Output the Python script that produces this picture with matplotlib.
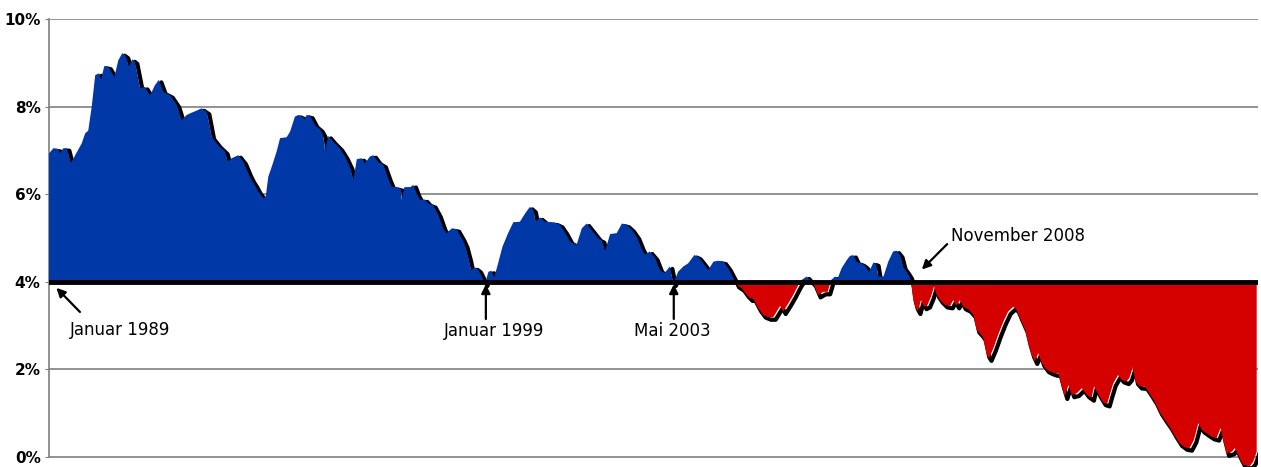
import numpy as np
import matplotlib
matplotlib.use("Agg")
import matplotlib.pyplot as plt
import matplotlib.transforms as mtransforms

# time axis in decimal years, values in percent
years = [
    1989.00, 1989.10, 1989.21, 1989.25, 1989.33, 1989.41, 1989.50, 1989.60, 1989.75, 1989.83,
    1989.90, 1989.98, 1990.06, 1990.15, 1990.19, 1990.27, 1990.36, 1990.50, 1990.59, 1990.68,
    1990.76, 1990.83, 1990.91, 1990.97, 1991.09, 1991.20, 1991.32, 1991.43, 1991.52, 1991.62,
    1991.78, 1991.93, 1992.04, 1992.16, 1992.27, 1992.39, 1992.50, 1992.62, 1992.73, 1992.88,
    1993.04, 1993.10, 1993.19, 1993.34, 1993.46, 1993.57, 1993.65, 1993.72, 1993.80, 1993.92,
    1993.97, 1994.03, 1994.11, 1994.22, 1994.30, 1994.45, 1994.53, 1994.64, 1994.72, 1994.81,
    1994.86, 1994.91, 1994.99, 1995.10, 1995.22, 1995.29, 1995.33, 1995.41, 1995.52, 1995.67,
    1995.79, 1995.90, 1995.98, 1996.06, 1996.17, 1996.25, 1996.36, 1996.44, 1996.55, 1996.67,
    1996.78, 1996.86, 1996.97, 1997.07, 1997.09, 1997.15, 1997.28, 1997.36, 1997.43, 1997.51,
    1997.62, 1997.70, 1997.81, 1997.93, 1998.04, 1998.12, 1998.24, 1998.35, 1998.47, 1998.54,
    1998.62, 1998.68, 1998.77, 1998.85, 1998.92, 1999.00, 1999.08, 1999.15, 1999.21, 1999.29,
    1999.40, 1999.53, 1999.65, 1999.80, 1999.92, 2000.03, 2000.11, 2000.16, 2000.26, 2000.38,
    2000.61, 2000.72, 2000.83, 2000.95, 2001.10, 2001.22, 2001.33, 2001.45, 2001.60, 2001.68,
    2001.75, 2001.87, 2002.02, 2002.14, 2002.25, 2002.36, 2002.48, 2002.59, 2002.67, 2002.78,
    2002.90, 2003.01, 2003.12, 2003.24, 2003.32, 2003.43, 2003.55, 2003.66, 2003.80, 2003.89,
    2004.01, 2004.12, 2004.24, 2004.35, 2004.47, 2004.58, 2004.70, 2004.77, 2004.89, 2005.00,
    2005.08, 2005.15, 2005.27, 2005.38, 2005.50, 2005.61, 2005.69, 2005.77, 2005.84, 2005.96,
    2006.07, 2006.19, 2006.26, 2006.38, 2006.45, 2006.53, 2006.64, 2006.76, 2006.86, 2006.94,
    2007.03, 2007.09, 2007.18, 2007.30, 2007.37, 2007.45, 2007.52, 2007.64, 2007.72, 2007.81,
    2007.91, 2007.97, 2008.02, 2008.14, 2008.25, 2008.36, 2008.44, 2008.52, 2008.59, 2008.67,
    2008.74, 2008.78, 2008.82, 2008.87, 2008.93, 2009.00, 2009.07, 2009.15, 2009.23, 2009.30,
    2009.36, 2009.44, 2009.55, 2009.67, 2009.74, 2009.82, 2009.89, 2009.97, 2010.09, 2010.20,
    2010.28, 2010.38, 2010.43, 2010.51, 2010.56, 2010.66, 2010.77, 2010.89, 2011.00, 2011.12,
    2011.19, 2011.27, 2011.39, 2011.46, 2011.54, 2011.61, 2011.69, 2011.77, 2011.88, 2011.96,
    2012.07, 2012.15, 2012.23, 2012.30, 2012.38, 2012.46, 2012.57, 2012.69, 2012.80, 2012.91,
    2012.97, 2013.07, 2013.18, 2013.27, 2013.33, 2013.41, 2013.52, 2013.60, 2013.71, 2013.78,
    2013.86, 2013.92, 2014.01, 2014.13, 2014.24, 2014.36, 2014.47, 2014.58, 2014.70, 2014.81,
    2014.93, 2015.05, 2015.16, 2015.26, 2015.36, 2015.44, 2015.55, 2015.67, 2015.78, 2015.87,
    2015.93, 2016.01, 2016.13, 2016.20, 2016.31, 2016.39, 2016.54, 2016.62, 2016.70,
]
yields = [
    6.93, 7.05, 7.03, 6.94, 7.05, 7.05, 6.70, 6.89, 7.16, 7.39,
    7.45, 8.00, 8.72, 8.76, 8.61, 8.93, 8.91, 8.68, 9.06, 9.22,
    9.16, 8.91, 9.08, 9.03, 8.42, 8.45, 8.26, 8.49, 8.61, 8.34,
    8.26, 8.04, 7.69, 7.81, 7.86, 7.91, 7.96, 7.88, 7.31, 7.12,
    6.97, 6.74, 6.82, 6.89, 6.74, 6.48, 6.32, 6.21, 6.06, 5.91,
    5.94, 6.40, 6.63, 6.97, 7.28, 7.30, 7.43, 7.77, 7.81, 7.77,
    7.71, 7.81, 7.79, 7.58, 7.48, 7.35, 7.01, 7.33, 7.20, 7.05,
    6.86, 6.63, 6.32, 6.80, 6.82, 6.71, 6.86, 6.89, 6.74, 6.67,
    6.36, 6.17, 6.16, 6.13, 5.87, 6.16, 6.16, 6.21, 6.02, 5.87,
    5.88, 5.79, 5.75, 5.53, 5.22, 5.11, 5.22, 5.20, 4.99, 4.84,
    4.54, 4.27, 4.33, 4.27, 4.13, 3.96, 4.23, 4.25, 4.10, 4.38,
    4.80, 5.11, 5.36, 5.37, 5.56, 5.71, 5.64, 5.37, 5.47, 5.37,
    5.35, 5.30, 5.14, 4.92, 4.84, 5.22, 5.33, 5.18, 4.99, 4.95,
    4.69, 5.09, 5.11, 5.33, 5.30, 5.20, 5.03, 4.76, 4.62, 4.69,
    4.55, 4.27, 4.20, 4.35, 3.96, 4.23, 4.35, 4.42, 4.61, 4.57,
    4.42, 4.27, 4.46, 4.48, 4.46, 4.31, 4.08, 3.93, 3.85, 3.70,
    3.62, 3.62, 3.39, 3.24, 3.19, 3.19, 3.32, 3.45, 3.32, 3.51,
    3.70, 3.93, 4.04, 4.12, 4.04, 3.96, 3.70, 3.77, 3.77, 4.04,
    4.12, 4.08, 4.31, 4.50, 4.59, 4.61, 4.46, 4.42, 4.36, 4.23,
    4.44, 4.42, 4.12, 4.12, 4.46, 4.69, 4.71, 4.61, 4.34, 4.23,
    4.12, 3.93, 3.62, 3.43, 3.32, 3.58, 3.43, 3.47, 3.66, 3.89,
    3.70, 3.58, 3.47, 3.45, 3.58, 3.45, 3.58, 3.43, 3.37, 3.24,
    2.90, 2.79, 2.71, 2.33, 2.25, 2.48, 2.79, 3.09, 3.32, 3.43,
    3.36, 3.17, 2.90, 2.60, 2.33, 2.18, 2.37, 2.14, 1.99, 1.95,
    1.91, 1.91, 1.61, 1.38, 1.64, 1.42, 1.45, 1.57, 1.42, 1.34,
    1.61, 1.42, 1.24, 1.21, 1.42, 1.68, 1.87, 1.76, 1.72, 1.80,
    2.05, 1.72, 1.62, 1.61, 1.45, 1.26, 1.03, 0.86, 0.69, 0.50,
    0.31, 0.22, 0.20, 0.39, 0.77, 0.62, 0.54, 0.46, 0.43, 0.66,
    0.39, 0.08, 0.12, 0.20, -0.03, -0.18, -0.21, -0.11, 0.12,
]

threshold = 4.0
ytick_vals = [0, 2, 4, 6, 8, 10]
ytick_labels = ["0%", "2%", "4%", "6%", "8%", "10%"]

# annotation labels: (text, text position, arrow start, arrow tip, alignment)
notes = [
    ("Januar 1989", (1989.48, 2.90), (1989.71, 3.31), (1989.17, 3.86), "left"),
    ("Januar 1999", (1999.21, 2.88), (1999.02, 3.15), (1999.02, 3.94), "center"),
    ("Mai 2003", (2003.29, 2.88), (2003.33, 3.15), (2003.33, 3.94), "center"),
    ("November 2008", (2009.69, 5.05), (2009.60, 4.86), (2009.02, 4.28), "left"),
]

x = np.array(years)
y = np.array(yields)

fig = plt.figure(figsize=(12.61, 4.67), dpi=100)
ax = fig.add_axes([49 / 1261, 0.0, 1209 / 1261, 1 - 19 / 467])

# grid lines
for v in ytick_vals:
    if v != threshold:
        ax.axhline(v, color="#7f7f7f", lw=1.2, zorder=1)

# drop shadow of the curve
shadow = mtransforms.offset_copy(ax.transData, fig=fig, x=2.5, y=-2.5, units="dots")
ax.plot(x, y, color="black", lw=3, transform=shadow, zorder=2, solid_joinstyle="round")

ax.fill_between(x, threshold, y, where=y >= threshold, interpolate=True,
                color="#0038a8", lw=0, zorder=3)
ax.fill_between(x, threshold, y, where=y < threshold, interpolate=True,
                color="#d50000", lw=0, zorder=3)

ax.axhline(threshold, color="black", lw=3.5, zorder=4)

ax.set_xlim(1989.0, 2016.73)
ax.set_ylim(-0.23, 10)
ax.set_yticks(ytick_vals)
ax.set_yticklabels(ytick_labels, fontsize=11, fontweight="bold")
ax.tick_params(axis="y", length=3, color="#7f7f7f", pad=3)
ax.set_xticks([])
for side in ["top", "right", "bottom"]:
    ax.spines[side].set_visible(False)
ax.spines["left"].set_color("#7f7f7f")
ax.spines["left"].set_linewidth(1.2)
ax.spines["left"].set_bounds(0, 10)

for label, txt_pos, start, tip, ha in notes:
    ax.annotate("", xy=tip, xytext=start,
                arrowprops=dict(arrowstyle="-|>", color="black", lw=1.6,
                                mutation_scale=13, shrinkA=0, shrinkB=0),
                zorder=6)
    ax.text(txt_pos[0], txt_pos[1], label, ha=ha, va="center", fontsize=12,
            color="black", zorder=6)

fig.savefig("out.png", dpi=100)
